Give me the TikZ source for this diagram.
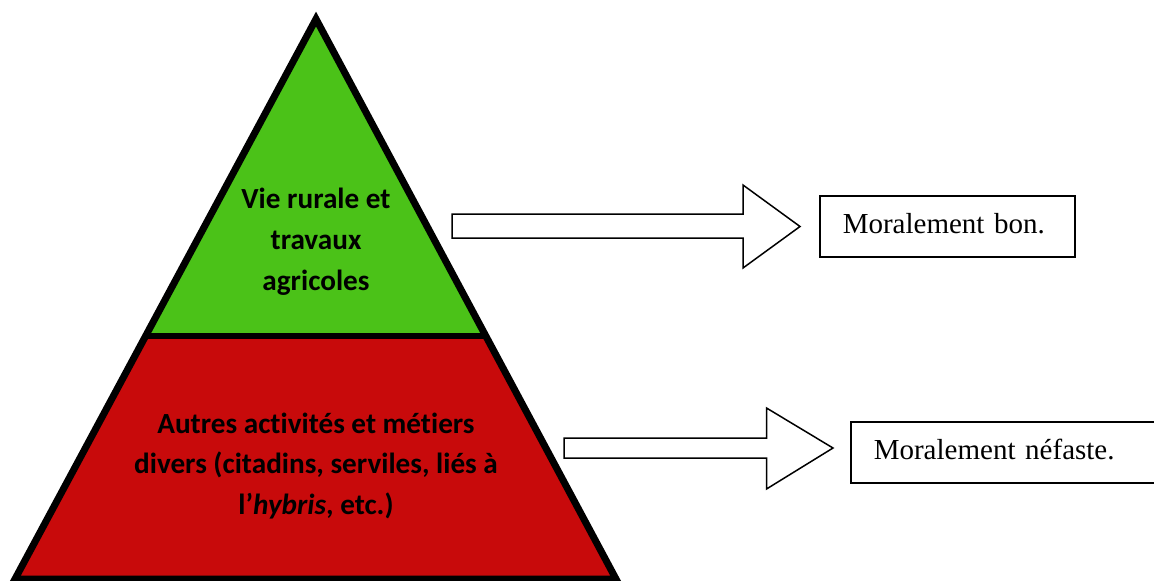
\documentclass[tikz,border=0pt]{standalone}
\usepackage{fontspec}
\setmainfont{Liberation Serif}
\newfontfamily\calibri[Ligatures=NoCommon]{Carlito}
\usetikzlibrary{calc}
\definecolor{pgreen}{RGB}{75,194,24}
\definecolor{pred}{RGB}{200,10,11}
\begin{document}
\begin{tikzpicture}[x=1pt,y=-1pt,
  layer/.style={font=\calibri\bfseries\fontsize{29.2}{40.8}\selectfont, align=center, inner sep=0pt},
  blockarrow/.style={draw=black, fill=white, line width=1.5pt, line join=miter},
  verdict/.style={draw=black, line width=1.6pt, fill=white, anchor=north west, align=left,
    font=\fontsize{29}{33}\selectfont, inner xsep=22pt, inner ysep=0pt, text height=20pt, text depth=5pt}]
\useasboundingbox (0,0) rectangle (1154,581);
% pyramid
\coordinate (apex) at (316,19);
\coordinate (bl) at (15,579);
\coordinate (br) at (616,579);
\coordinate (ml) at ($(apex)!0.5660!(bl)$);
\coordinate (mr) at ($(apex)!0.5660!(br)$);
\fill[pgreen] (apex) -- (ml) -- (mr) -- cycle;
\fill[pred] (ml) -- (bl) -- (br) -- (mr) -- cycle;
\draw[line width=5.5pt] (ml) -- (mr);
\draw[line width=7pt, line join=miter] (apex) -- (bl) -- (br) -- cycle;
% texts
\node[layer] (top) at (316,242) {Vie rurale et\\travaux\\agricoles};
\node[layer] (bottom) at (316,466) {Autres activités et métiers\\divers (citadins, serviles, liés à\\l’\textit{hybris}, etc.)};
% verdict boxes
\node[verdict, minimum width=255, minimum height=61, text width=209] (good) at (819,195) {Moralement bon.};
\node[verdict, minimum width=310, minimum height=61, text width=264] (bad) at (850,421) {Moralement néfaste.};
% block arrows
\coordinate (a1) at (452,226);
\coordinate (a2) at (564,448);
\draw[blockarrow] ($(a1)+(0,-12)$) -- ++(291,0) -- ++(0,-29) -- ($(a1)+(348,0.5)$) -- ($(a1)+(291,42)$) -- ++(0,-30) -- ($(a1)+(0,12)$) -- cycle;
\draw[blockarrow] ($(a2)+(0,-10)$) -- ++(202.5,0) -- ++(0,-30) -- ($(a2)+(269,0)$) -- ($(a2)+(202.5,41)$) -- ++(0,-31) -- ($(a2)+(0,10)$) -- cycle;
\end{tikzpicture}
\end{document}
